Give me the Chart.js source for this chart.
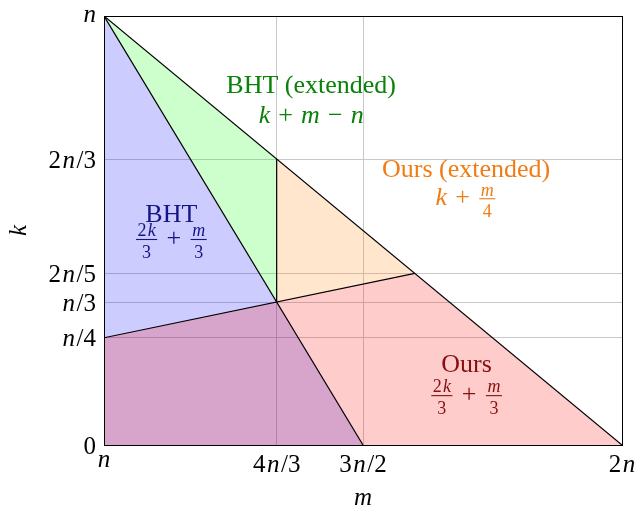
<!DOCTYPE html>
<html>
<head>
<meta charset="utf-8">
<script src="https://cdn.jsdelivr.net/npm/chart.js@4.4.0/dist/chart.umd.min.js"></script>
<style>
  html, body { margin: 0; padding: 0; background: #fff; }
  canvas { display: block; }
</style>
</head>
<body>
<canvas id="regionChart" width="636" height="508"></canvas>
<script>
// axes: m and k, both in units of n
const xTickValues = [1, 4/3, 3/2, 2];
const xTickLabels = ['n', '4n/3', '3n/2', '2n'];
const yTickValues = [0, 1/4, 1/3, 2/5, 2/3, 1];
const yTickLabels = ['0', 'n/4', 'n/3', '2n/5', '2n/3', 'n'];

// regions as polygon corners [m, k]
const bhtRegion = [[1, 1], [1, 0], [3/2, 0]];
const oursRegion = [[1, 0], [1, 1/4], [8/5, 2/5], [2, 0]];
const bhtExtRegion = [[1, 1], [4/3, 2/3], [4/3, 1/3]];
const oursExtRegion = [[4/3, 2/3], [8/5, 2/5], [4/3, 1/3]];

// black boundary segments
const diagonalEdge = [[1, 1], [2, 0]];
const bhtEdge = [[1, 1], [3/2, 0]];
const oursEdge = [[1, 1/4], [8/5, 2/5]];
const extEdge = [[4/3, 1/3], [4/3, 2/3]];

// region labels
const regionNames = ['BHT (extended)', 'Ours (extended)', 'BHT', 'Ours'];
const regionCosts = ['k + m − n', 'k + m/4', '2k/3 + m/3', '2k/3 + m/3'];

const labelSpots = [
  { x: 1.400, nameY: 0.821, costY: 0.751, color: 'rgb(10,130,10)' },
  { x: 1.699, nameY: 0.625, costY: 0.559, color: 'rgb(240,125,20)' },
  { x: 1.130, nameY: 0.520, costY: 0.464, color: 'rgb(20,20,135)' },
  { x: 1.700, nameY: 0.170, costY: 0.100, color: 'rgb(135,15,15)' }
];

const FONT = '"Liberation Serif", "Times New Roman", serif';
const MAIN = 26;
const TICK = 25;

function toXY(points) {
  return points.map(p => ({ x: p[0], y: p[1] }));
}

function polygon(points, color, order) {
  return { data: toXY(points), showLine: true, fill: 'shape', backgroundColor: color,
           borderColor: 'rgba(0,0,0,0)', borderWidth: 0, pointRadius: 0, order };
}

function edge(points) {
  return { data: toXY(points), showLine: true, fill: false, borderColor: '#000',
           borderWidth: 1.2, pointRadius: 0, order: 0 };
}

// letters italic, the rest upright
function pieces(str) {
  const out = [];
  for (const ch of str) {
    const it = /[a-zA-Z]/.test(ch);
    const last = out[out.length - 1];
    if (last && last.it === it) last.s += ch; else out.push({ s: ch, it });
  }
  return out;
}

function fontFor(it, size) {
  return (it ? 'italic ' : '') + size + 'px ' + FONT;
}

// small gap between math pieces, a bit like TeX spacing
function pieceGap(size) { return size * 0.06; }

function measureInline(ctx, str, size) {
  let w = 0, asc = 0, desc = 0;
  const ps = pieces(str);
  ps.forEach((p, i) => {
    ctx.font = fontFor(p.it, size);
    const m = ctx.measureText(p.s);
    w += m.width + (i < ps.length - 1 ? pieceGap(size) : 0);
    asc = Math.max(asc, m.actualBoundingBoxAscent);
    desc = Math.max(desc, m.actualBoundingBoxDescent);
  });
  return { w, asc, desc };
}

function drawInline(ctx, str, x, y, size) {
  ctx.textBaseline = 'alphabetic';
  ctx.textAlign = 'left';
  for (const p of pieces(str)) {
    ctx.font = fontFor(p.it, size);
    ctx.fillText(p.s, x, y);
    x += ctx.measureText(p.s).width + pieceGap(size);
  }
}

// formula: tokens split by spaces, a/b becomes a stacked fraction
function formulaParts(ctx, str, size) {
  const small = Math.round(size * 0.68);
  return str.split(' ').map(tok => {
    if (tok === '+' || tok === '−') {
      ctx.font = fontFor(false, size);
      return { kind: 'op', s: tok, w: ctx.measureText(tok).width + size * 0.62 };
    }
    if (tok.includes('/')) {
      const [num, den] = tok.split('/');
      const wn = measureInline(ctx, num, small).w;
      const wd = measureInline(ctx, den, small).w;
      return { kind: 'frac', num, den, wn, wd, small, w: Math.max(wn, wd) + size * 0.22 };
    }
    return { kind: 'text', s: tok, w: measureInline(ctx, tok, size).w };
  });
}

function drawFormula(ctx, str, cx, y, size) {
  const parts = formulaParts(ctx, str, size);
  const total = parts.reduce((a, p) => a + p.w, 0);
  let x = cx - total / 2;
  for (const p of parts) {
    if (p.kind === 'op') {
      ctx.font = fontFor(false, size);
      ctx.textAlign = 'center';
      ctx.fillText(p.s, x + p.w / 2, y);
    } else if (p.kind === 'frac') {
      const bar = y - size * 0.25;
      ctx.fillRect(x + size * 0.05, bar - 0.5, p.w - size * 0.1, 1.1);
      drawInline(ctx, p.num, x + (p.w - p.wn) / 2, bar - size * 0.12, p.small);
      drawInline(ctx, p.den, x + (p.w - p.wd) / 2, bar + size * 0.72, p.small);
    } else {
      drawInline(ctx, p.s, x, y, size);
    }
    x += p.w;
  }
}

const decorations = {
  id: 'decorations',
  afterDraw(chart) {
    const ctx = chart.ctx;
    const { left, right, top, bottom } = chart.chartArea;
    const xs = chart.scales.x, ys = chart.scales.y;
    ctx.save();

    // frame
    ctx.strokeStyle = '#000';
    ctx.lineWidth = 1;
    ctx.strokeRect(Math.round(left) + 0.5, Math.round(top) + 0.5,
                   Math.round(right - left), Math.round(bottom - top));

    ctx.fillStyle = '#000';
    // x tick labels, hanging from their top
    xTickValues.forEach((v, i) => {
      const m = measureInline(ctx, xTickLabels[i], TICK);
      drawInline(ctx, xTickLabels[i], xs.getPixelForValue(v) - m.w / 2, bottom + 10 + m.asc, TICK);
    });
    // y tick labels, right aligned and centred on the tick
    yTickValues.forEach((v, i) => {
      const m = measureInline(ctx, yTickLabels[i], TICK);
      const py = ys.getPixelForValue(v);
      drawInline(ctx, yTickLabels[i], left - 8 - m.w, py + (m.asc - m.desc) / 2, TICK);
    });

    // axis titles
    ctx.font = fontFor(true, TICK);
    ctx.textAlign = 'center';
    ctx.textBaseline = 'alphabetic';
    ctx.fillText('m', (left + right) / 2, 505);
    ctx.save();
    ctx.translate(26, (top + bottom) / 2);
    ctx.rotate(-Math.PI / 2);
    ctx.fillText('k', 0, 0);
    ctx.restore();

    // region labels
    labelSpots.forEach((sp, i) => {
      const cx = xs.getPixelForValue(sp.x);
      ctx.fillStyle = sp.color;
      ctx.font = fontFor(false, MAIN);
      ctx.textAlign = 'center';
      ctx.textBaseline = 'alphabetic';
      ctx.fillText(regionNames[i], cx, ys.getPixelForValue(sp.nameY));
      drawFormula(ctx, regionCosts[i], cx, ys.getPixelForValue(sp.costY), MAIN);
    });
    ctx.restore();
  }
};

const gridStyle = { color: '#c8c8c8', lineWidth: 1, drawTicks: false };

new Chart(document.getElementById('regionChart'), {
  type: 'scatter',
  data: {
    datasets: [
      polygon(bhtRegion, 'rgba(0,0,255,0.2)', 5),
      polygon(oursRegion, 'rgba(255,0,0,0.2)', 4),
      polygon(bhtExtRegion, 'rgba(0,255,0,0.2)', 3),
      polygon(oursExtRegion, 'rgba(255,128,0,0.2)', 2),
      edge(diagonalEdge),
      edge(bhtEdge),
      edge(oursEdge),
      edge(extEdge)
    ]
  },
  options: {
    responsive: false,
    animation: false,
    layout: { padding: { top: 16, right: 14, left: 0, bottom: 0 } },
    plugins: { legend: { display: false }, tooltip: { enabled: false } },
    scales: {
      x: {
        type: 'linear', min: 1, max: 2,
        afterBuildTicks: s => { s.ticks = xTickValues.map(v => ({ value: v })); },
        afterFit: s => { s.height = 63; },
        ticks: { display: false },
        grid: gridStyle,
        border: { display: false }
      },
      y: {
        type: 'linear', min: 0, max: 1,
        afterBuildTicks: s => { s.ticks = yTickValues.map(v => ({ value: v })); },
        afterFit: s => { s.width = 104; },
        ticks: { display: false },
        grid: gridStyle,
        border: { display: false }
      }
    }
  },
  plugins: [decorations]
});
</script>
</body>
</html>
